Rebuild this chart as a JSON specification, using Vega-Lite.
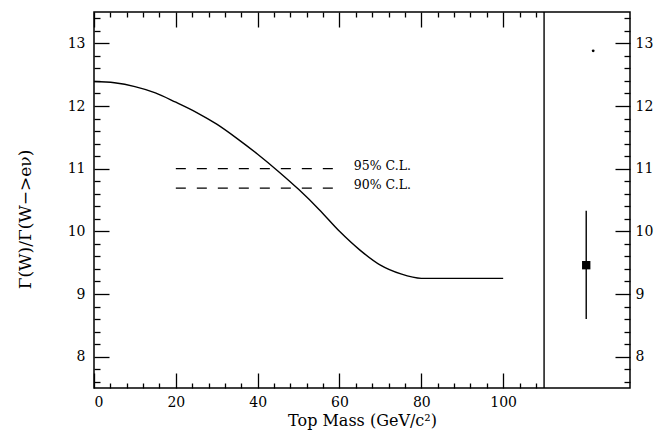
{
  "$schema": "https://vega.github.io/schema/vega-lite/v6.json",
  "width": 536,
  "height": 376,
  "autosize": {"type": "none"},
  "padding": {"left": 94, "top": 12, "right": 37, "bottom": 43},
  "background": "white",
  "config": {
    "view": {"stroke": "black", "strokeWidth": 1.5},
    "axis": {
      "domain": false, "grid": false, "tickColor": "black", "tickWidth": 1.3,
      "labelFont": "DejaVu Serif", "labelFontSize": 14, "labelColor": "black",
      "titleFont": "DejaVu Serif", "titleColor": "black", "titleFontWeight": "normal"
    }
  },
  "datasets": {
    "curve": [
      {"mass": 0, "ratio": 12.39}, {"mass": 5, "ratio": 12.37}, {"mass": 10, "ratio": 12.31},
      {"mass": 15, "ratio": 12.21}, {"mass": 20, "ratio": 12.06}, {"mass": 25, "ratio": 11.9},
      {"mass": 30, "ratio": 11.71}, {"mass": 35, "ratio": 11.48}, {"mass": 40, "ratio": 11.23},
      {"mass": 45, "ratio": 10.96}, {"mass": 50, "ratio": 10.67}, {"mass": 55, "ratio": 10.35},
      {"mass": 60, "ratio": 10.0}, {"mass": 65, "ratio": 9.7}, {"mass": 70, "ratio": 9.46},
      {"mass": 75, "ratio": 9.32}, {"mass": 80, "ratio": 9.25}, {"mass": 90, "ratio": 9.25},
      {"mass": 100, "ratio": 9.25}
    ],
    "cl": [
      {"mass": 20, "ratio": 11.0, "level": "95% C.L."}, {"mass": 60, "ratio": 11.0, "level": "95% C.L."},
      {"mass": 20, "ratio": 10.69, "level": "90% C.L."}, {"mass": 60, "ratio": 10.69, "level": "90% C.L."}
    ],
    "cllabels": [
      {"mass": 63.5, "ratio": 11.0, "level": "95% C.L."},
      {"mass": 63.5, "ratio": 10.69, "level": "90% C.L."}
    ],
    "divider": [{"mass": 110}],
    "meas": [{"mass": 120.3, "ratio": 9.46, "lo": 8.6, "hi": 10.33}],
    "speck": [{"mass": 122, "ratio": 12.88}]
  },
  "resolve": {"axis": {"x": "independent", "y": "independent"}},
  "layer": [
    {
      "data": {"name": "curve"},
      "mark": {"type": "line", "color": "black", "strokeWidth": 1.4, "interpolate": "monotone"},
      "encoding": {
        "x": {"field": "mass", "type": "quantitative", "scale": {"domain": [0, 131], "nice": false, "zero": false},
          "axis": {"orient": "bottom", "values": [0, 20, 40, 60, 80, 100], "tickSize": -15, "labelPadding": 22,
            "title": "Top Mass (GeV/c²)", "titleFontSize": 16, "titlePadding": 3}},
        "y": {"field": "ratio", "type": "quantitative", "scale": {"domain": [7.5, 13.5], "nice": false, "zero": false},
          "axis": {"orient": "left", "values": [8, 9, 10, 11, 12, 13], "tickSize": -15, "labelPadding": 24,
            "title": "Γ(W)/Γ(W−>eν)", "titleFontSize": 17, "titlePadding": 33, "titleY": 207}}
      }
    },
    {
      "data": {"name": "cl"},
      "mark": {"type": "line", "color": "black", "strokeWidth": 1.2, "strokeDash": [10, 11]},
      "encoding": {
        "x": {"field": "mass", "type": "quantitative",
          "axis": {"orient": "top", "values": [0, 20, 40, 60, 80, 100], "tickSize": -15, "labels": false, "title": null}},
        "y": {"field": "ratio", "type": "quantitative",
          "axis": {"orient": "right", "values": [8, 9, 10, 11, 12, 13], "tickSize": -15, "labelPadding": 20, "title": null}},
        "detail": {"field": "level"}
      }
    },
    {
      "data": {"name": "cllabels"},
      "mark": {"type": "text", "align": "left", "baseline": "middle", "font": "DejaVu Serif", "fontSize": 12.5, "color": "black", "dy": -3},
      "encoding": {
        "x": {"field": "mass", "type": "quantitative", "axis": null},
        "y": {"field": "ratio", "type": "quantitative", "axis": null},
        "text": {"field": "level"}
      }
    },
    {
      "data": {"name": "divider"},
      "mark": {"type": "rule", "color": "black", "strokeWidth": 1.4},
      "encoding": {
        "x": {"field": "mass", "type": "quantitative",
          "axis": {"orient": "bottom", "values": [4, 8, 12, 16, 24, 28, 32, 36, 44, 48, 52, 56, 64, 68, 72, 76, 84, 88, 92, 96, 104, 108],
            "tickSize": -5, "labels": false, "title": null}}
      }
    },
    {
      "data": {"name": "meas"},
      "mark": {"type": "rule", "color": "black", "strokeWidth": 1.4},
      "encoding": {
        "x": {"field": "mass", "type": "quantitative",
          "axis": {"orient": "top", "values": [4, 8, 12, 16, 24, 28, 32, 36, 44, 48, 52, 56, 64, 68, 72, 76, 84, 88, 92, 96, 104, 108],
            "tickSize": -5, "labels": false, "title": null}},
        "y": {"field": "lo", "type": "quantitative",
          "axis": {"orient": "left", "values": [7.6, 7.8, 8.2, 8.4, 8.6, 8.8, 9.2, 9.4, 9.6, 9.8, 10.2, 10.4, 10.6, 10.8, 11.2, 11.4, 11.6, 11.8, 12.2, 12.4, 12.6, 12.8, 13.2, 13.4],
            "tickSize": -6, "labels": false, "title": null}},
        "y2": {"field": "hi"}
      }
    },
    {
      "data": {"name": "meas"},
      "mark": {"type": "square", "color": "black", "opacity": 1, "filled": true, "size": 70},
      "encoding": {
        "x": {"field": "mass", "type": "quantitative", "axis": null},
        "y": {"field": "ratio", "type": "quantitative",
          "axis": {"orient": "right", "values": [7.6, 7.8, 8.2, 8.4, 8.6, 8.8, 9.2, 9.4, 9.6, 9.8, 10.2, 10.4, 10.6, 10.8, 11.2, 11.4, 11.6, 11.8, 12.2, 12.4, 12.6, 12.8, 13.2, 13.4],
            "tickSize": -6, "labels": false, "title": null}}
      }
    },
    {
      "data": {"name": "speck"},
      "mark": {"type": "circle", "color": "black", "opacity": 1, "size": 8},
      "encoding": {
        "x": {"field": "mass", "type": "quantitative", "axis": null},
        "y": {"field": "ratio", "type": "quantitative", "axis": null}
      }
    }
  ]
}
